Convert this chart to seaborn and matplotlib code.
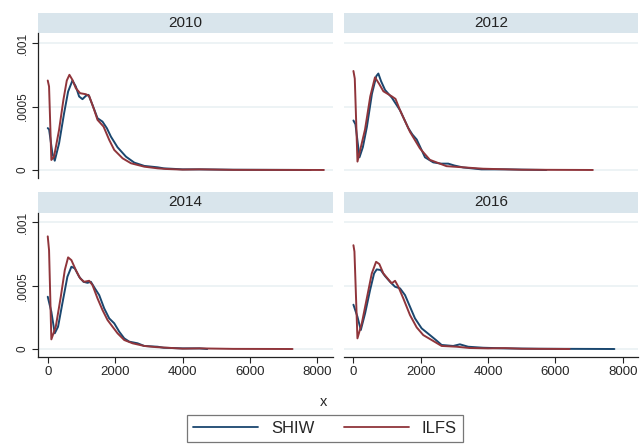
import matplotlib
matplotlib.use("Agg")
import matplotlib.pyplot as plt
import seaborn as sns
import pandas as pd
from matplotlib.patches import Rectangle
from matplotlib.lines import Line2D

# Kernel density estimates of earnings, SHIW vs ILFS, by survey year
years = [2010, 2012, 2014, 2016]
series = ["SHIW", "ILFS"]

shiw_x = {
    2010: [0, 40, 137, 208, 336, 485, 604, 732, 832, 931, 1030, 1130, 1208, 1327, 1476,
           1624, 1754, 1873, 2070, 2320, 2567, 2864, 3260, 3440, 4000, 4500, 5500, 7800],
    2012: [0, 60, 180, 280, 400, 550, 680, 740, 820, 940, 1140, 1385, 1630, 1750, 1880,
           2125, 2370, 2600, 2815, 3000, 3260, 3800, 4500, 5730],
    2014: [0, 107, 208, 306, 434, 583, 702, 803, 931, 1059, 1178, 1279, 1398, 1526, 1674,
           1823, 1972, 2120, 2269, 2418, 2665, 2864, 3260, 3440, 4000, 4500, 4730],
    2016: [0, 119, 219, 347, 495, 613, 692, 811, 939, 1087, 1236, 1384, 1532, 1680, 1828,
           2026, 2272, 2450, 2619, 2963, 3161, 3407, 3850, 4500, 5500, 7750],
}
shiw_y = {
    2010: [3.3e-4, 3.2e-4, 1.32e-4, 0.73e-4, 2.1e-4, 4.47e-4, 6.18e-4, 7.05e-4, 6.58e-4,
           5.79e-4, 5.58e-4, 5.84e-4, 5.92e-4, 5.13e-4, 4.08e-4, 3.81e-4, 3.29e-4, 2.63e-4,
           1.79e-4, 1.05e-4, 0.58e-4, 0.32e-4, 0.21e-4, 0.13e-4, 0.05e-4, 0.05e-4, 0.02e-4,
           0.0],
    2012: [3.9e-4, 3.6e-4, 1.0e-4, 1.8e-4, 3.4e-4, 6.0e-4, 7.4e-4, 7.6e-4, 7.0e-4, 6.3e-4,
           5.7e-4, 4.7e-4, 3.3e-4, 2.8e-4, 2.4e-4, 1.0e-4, 0.6e-4, 0.5e-4, 0.5e-4, 0.35e-4,
           0.2e-4, 0.05e-4, 0.05e-4, 0.0],
    2014: [4.13e-4, 2.94e-4, 1.24e-4, 1.76e-4, 3.61e-4, 5.71e-4, 6.5e-4, 6.37e-4, 5.71e-4,
           5.31e-4, 5.23e-4, 5.31e-4, 4.79e-4, 4.26e-4, 3.21e-4, 2.42e-4, 2.03e-4, 1.37e-4,
           0.84e-4, 0.58e-4, 0.45e-4, 0.24e-4, 0.18e-4, 0.1e-4, 0.05e-4, 0.05e-4, 0.0],
    2016: [3.5e-4, 2.55e-4, 1.5e-4, 2.82e-4, 4.66e-4, 5.97e-4, 6.29e-4, 6.24e-4, 5.76e-4,
           5.31e-4, 4.92e-4, 4.79e-4, 4.26e-4, 3.34e-4, 2.42e-4, 1.63e-4, 1.1e-4, 0.71e-4,
           0.32e-4, 0.24e-4, 0.37e-4, 0.18e-4, 0.1e-4, 0.05e-4, 0.02e-4, 0.0],
}

ilfs_x = {
    2010: [0, 39, 107, 187, 336, 464, 565, 643, 732, 832, 960, 1130, 1228, 1377, 1476,
           1655, 1823, 1972, 2220, 2468, 2864, 3260, 3500, 4000, 4500, 5500, 8190],
    2012: [0, 40, 120, 345, 500, 640, 760, 890, 1140, 1250, 1385, 1680, 1975, 2270, 2765,
           3850, 5000, 7110],
    2014: [0, 39, 107, 238, 387, 506, 604, 702, 832, 961, 1080, 1228, 1327, 1476, 1624,
           1773, 1922, 2070, 2269, 2517, 2864, 3210, 4000, 4500, 5500, 7260],
    2016: [0, 30, 119, 249, 397, 545, 673, 770, 889, 1037, 1137, 1236, 1334, 1481, 1680,
           1878, 2074, 2323, 2619, 3063, 3450, 4000, 4500, 5000, 6420],
}
ilfs_y = {
    2010: [7.05e-4, 6.58e-4, 0.79e-4, 1.05e-4, 3.16e-4, 5.52e-4, 7.05e-4, 7.5e-4, 7.1e-4,
           6.45e-4, 6.05e-4, 5.97e-4, 5.84e-4, 4.74e-4, 3.95e-4, 3.42e-4, 2.37e-4, 1.58e-4,
           0.92e-4, 0.53e-4, 0.26e-4, 0.13e-4, 0.08e-4, 0.03e-4, 0.05e-4, 0.01e-4, 0.0],
    2012: [7.8e-4, 7.2e-4, 0.66e-4, 3.2e-4, 5.8e-4, 7.3e-4, 6.8e-4, 6.2e-4, 5.8e-4, 5.6e-4,
           4.7e-4, 3.0e-4, 1.7e-4, 0.8e-4, 0.3e-4, 0.1e-4, 0.02e-4, 0.0],
    2014: [8.9e-4, 7.8e-4, 0.76e-4, 1.76e-4, 4.13e-4, 6.24e-4, 7.24e-4, 7.02e-4, 6.24e-4,
           5.58e-4, 5.31e-4, 5.39e-4, 5.05e-4, 4.0e-4, 3.08e-4, 2.29e-4, 1.76e-4, 1.24e-4,
           0.71e-4, 0.45e-4, 0.24e-4, 0.15e-4, 0.03e-4, 0.05e-4, 0.01e-4, 0.0],
    2016: [8.2e-4, 7.7e-4, 0.84e-4, 2.03e-4, 4.0e-4, 5.97e-4, 6.89e-4, 6.71e-4, 5.97e-4,
           5.5e-4, 5.19e-4, 5.39e-4, 4.92e-4, 4.0e-4, 2.68e-4, 1.71e-4, 1.1e-4, 0.71e-4,
           0.24e-4, 0.18e-4, 0.08e-4, 0.05e-4, 0.07e-4, 0.02e-4, 0.0],
}

x_ticks = [0, 2000, 4000, 6000, 8000]
y_ticks = [0, 0.0005, 0.001]
y_ticklabels = ["0", ".0005", ".001"]

palette = {"SHIW": "#1a476f", "ILFS": "#90353b"}

# long table
rows = []
for yr in years:
    for xv, yv in zip(shiw_x[yr], shiw_y[yr]):
        rows.append({"year": yr, "series": "SHIW", "x": xv, "y": yv})
    for xv, yv in zip(ilfs_x[yr], ilfs_y[yr]):
        rows.append({"year": yr, "series": "ILFS", "x": xv, "y": yv})
df = pd.DataFrame(rows)

sns.set_style("white")
plt.rcParams["font.family"] = ["Liberation Sans", "DejaVu Sans"]

W, H = 642, 445
fig = plt.figure(figsize=(W / 100, H / 100), dpi=100)

# panel placement in pixels: (left, right, top, bottom) of plot area
panels = {
    2010: (38.3, 333.0, 33.3, 177.7),
    2012: (344.0, 638.3, 33.3, 177.7),
    2014: (38.3, 333.0, 212.7, 356.7),
    2016: (344.0, 638.3, 212.7, 356.7),
}
strip_h = 20.6
axis_col = "#222222"
grid_col = "#eaf1f3"

for i, yr in enumerate(years):
    l, r, t, b = panels[yr]
    ax = fig.add_axes([l / W, 1 - b / H, (r - l) / W, (b - t) / H])
    sub = df[df["year"] == yr]
    sns.lineplot(data=sub, x="x", y="y", hue="series", hue_order=series,
                 palette=palette, ax=ax, legend=False, linewidth=1.4,
                 estimator=None, sort=False)
    for ln in ax.lines:
        ln.set_solid_joinstyle("round")
    ax.set_xlim(-280, 8460)
    ax.set_ylim(-0.0000608, 0.001077)
    ax.set_xticks(x_ticks)
    ax.set_yticks(y_ticks)
    ax.set_xlabel("")
    ax.set_ylabel("")
    ax.grid(axis="y", color=grid_col, linewidth=1.2)
    ax.set_axisbelow(True)
    for s in ax.spines.values():
        s.set_visible(False)
    left_col = i % 2 == 0
    bottom_row = i >= 2
    if left_col:
        ax.spines["left"].set_visible(True)
        ax.spines["left"].set_color(axis_col)
        ax.spines["left"].set_linewidth(0.9)
        ax.set_yticklabels(y_ticklabels, rotation=90, va="center", fontsize=8.5)
        ax.tick_params(axis="y", left=True, length=4, width=0.8, color=axis_col, pad=3)
    else:
        ax.tick_params(axis="y", left=False, labelleft=False)
    if bottom_row:
        ax.spines["bottom"].set_visible(True)
        ax.spines["bottom"].set_color(axis_col)
        ax.spines["bottom"].set_linewidth(0.9)
        ax.set_xticklabels([str(v) for v in x_ticks], fontsize=9.5)
        ax.tick_params(axis="x", bottom=True, length=4, width=0.8, color=axis_col, pad=3)
    else:
        ax.tick_params(axis="x", bottom=False, labelbottom=False)
    # facet strip
    h = strip_h / (b - t)
    ax.add_patch(Rectangle((0, 1), 1, h, transform=ax.transAxes, clip_on=False,
                           facecolor="#d9e5ec", edgecolor="none"))
    ax.text(0.5, 1 + h / 2, str(yr), transform=ax.transAxes, ha="center",
            va="center", fontsize=11, color="#222222")

fig.text(324 / W, 1 - 401.5 / H, "x", ha="center", va="center", fontsize=10.5)

handles = [Line2D([0], [0], color=palette[s], linewidth=1.3) for s in series]
leg = fig.legend(handles, series, loc="center", bbox_to_anchor=(325 / W, 1 - 428.5 / H),
                 ncol=2, frameon=True, fancybox=False, fontsize=12,
                 handlelength=3.9, handletextpad=0.75, columnspacing=1.8,
                 borderpad=0.35)
leg.get_frame().set_edgecolor("#555555")
leg.get_frame().set_linewidth(0.9)

fig.savefig("out.png", dpi=100)
